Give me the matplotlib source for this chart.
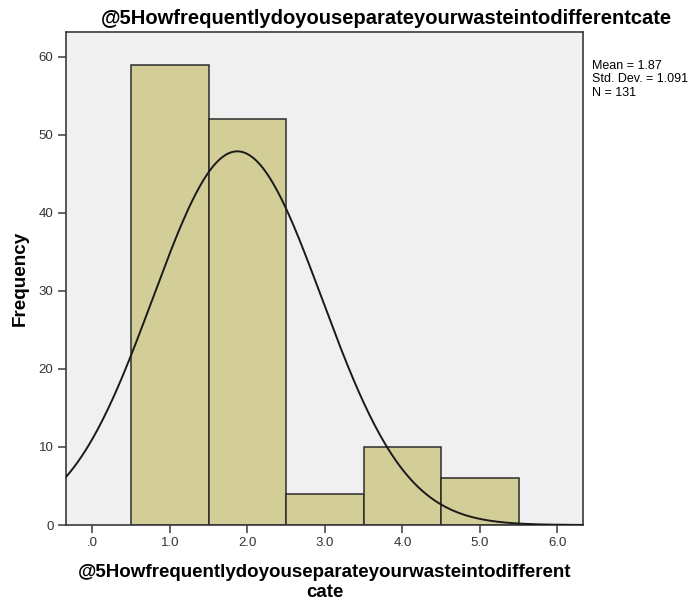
import numpy as np
import matplotlib
matplotlib.use("Agg")
import matplotlib.pyplot as plt

plt.rcParams['font.family'] = ['Liberation Sans', 'DejaVu Sans']

# response codes and their counts
codes = [1, 2, 3, 4, 5]
counts = [59, 52, 4, 10, 6]
x_ticks = [0, 1, 2, 3, 4, 5, 6]
x_tick_labels = ['.0', '1.0', '2.0', '3.0', '4.0', '5.0', '6.0']
y_ticks = [0, 10, 20, 30, 40, 50, 60]
mean_val = 1.87
std_val = 1.091
n_val = 131

var_name = '@5Howfrequentlydoyouseparateyourwasteintodifferentcate'
x_title_lines = ['@5Howfrequentlydoyouseparateyourwasteintodifferent', 'cate']

W, H = 700, 608
fig = plt.figure(figsize=(W / 100, H / 100), dpi=100)
ax = fig.add_axes([66 / W, 1 - 525 / H, (583 - 66) / W, (525 - 32) / H])
ax.set_facecolor('#f0f0f0')

ax.bar(codes, counts, width=1.0, color='#d3ce97', edgecolor='#2b2b2b', linewidth=1.1, zorder=2)

# fitted normal curve, scaled to the counts
xs = np.linspace(-0.34, 6.33, 400)
pdf = np.exp(-0.5 * ((xs - mean_val) / std_val) ** 2) / (std_val * np.sqrt(2 * np.pi))
ax.plot(xs, pdf * n_val * 1.0, color='#1a1a1a', linewidth=1.4, zorder=3)

ax.set_xlim(-0.34, 6.33)
ax.set_ylim(0, 63.2)
ax.set_xticks(x_ticks)
ax.set_xticklabels(x_tick_labels)
ax.set_yticks(y_ticks)
ax.tick_params(axis='both', direction='out', length=6, width=1.1, color='#3a3a3a',
               labelsize=9.5, labelcolor='#333333', pad=3)
for s in ax.spines.values():
    s.set_color('#3a3a3a')
    s.set_linewidth(1.2)

# titles placed in pixel terms
fig.text(386.5 / W, 1 - 24 / H, var_name, ha='center', va='baseline',
         fontsize=14.5, fontweight='bold')
fig.text(20 / W, 1 - 278.5 / H, 'Frequency', rotation=90, ha='center', va='center',
         fontsize=13.6, fontweight='bold')
fig.text(324.5 / W, 1 - 577 / H, x_title_lines[0], ha='center', va='baseline',
         fontsize=13.5, fontweight='bold')
fig.text(324.5 / W, 1 - 597 / H, x_title_lines[1], ha='center', va='baseline',
         fontsize=13.5, fontweight='bold')

fig.text(592 / W, 1 - 60 / H, 'Mean = %.2f\nStd. Dev. = %.3f\nN = %d' % (mean_val, std_val, n_val),
         ha='left', va='top', fontsize=9, linespacing=1.15)

fig.savefig('out.png', dpi=100)
